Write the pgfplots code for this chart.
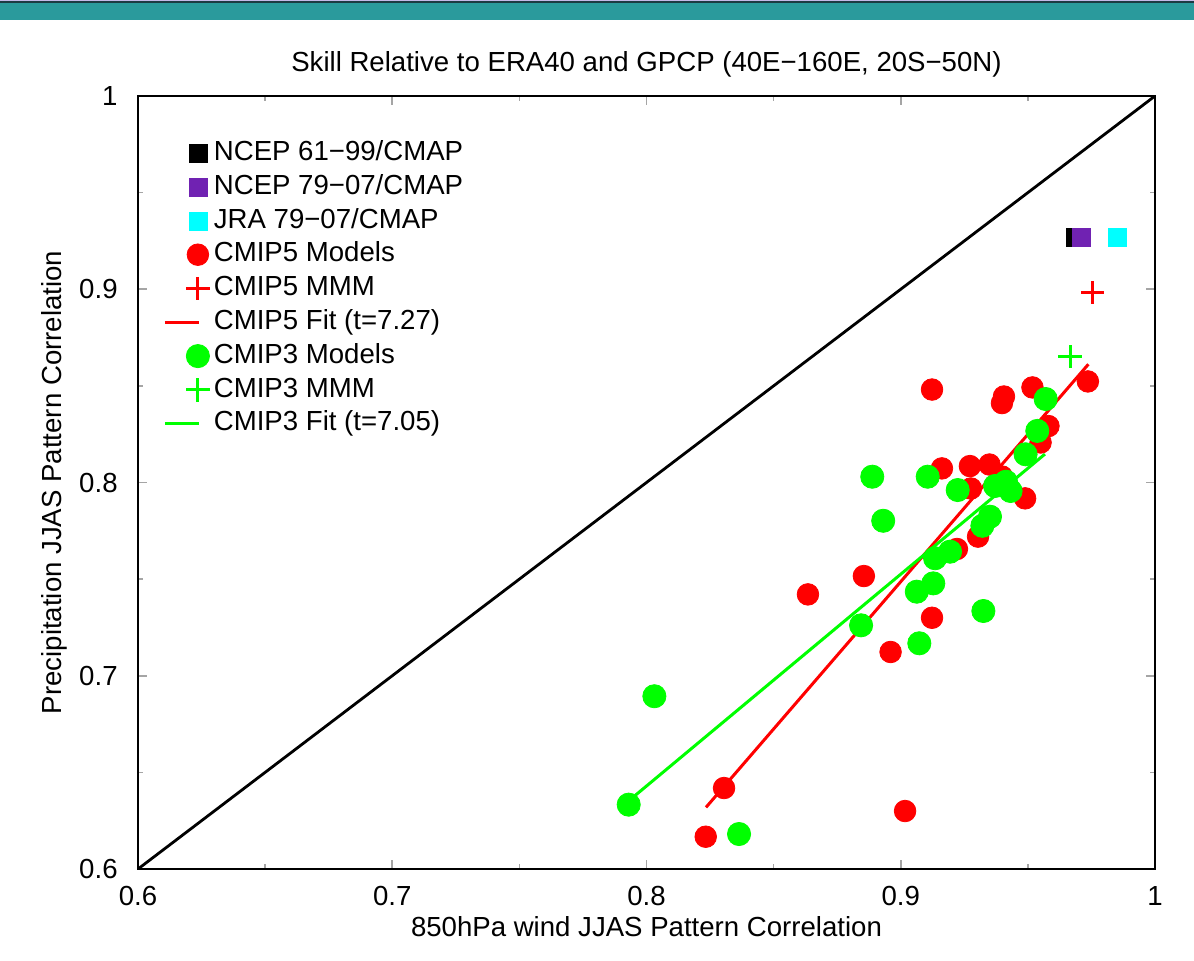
\documentclass[border=0pt]{standalone}
\usepackage{fontspec}
\setmainfont{Liberation Sans}
\usepackage{pgfplots}
\pgfplotsset{compat=1.18}

\definecolor{bandteal}{RGB}{42,154,156}
\definecolor{banddark}{RGB}{28,58,66}
\definecolor{bandlav}{RGB}{196,186,232}
\definecolor{ncepviolet}{RGB}{112,34,178}
\definecolor{jracyan}{RGB}{0,255,255}
\definecolor{ticgray}{RGB}{165,165,165}

\pgfplotsset{
  markleg/.style={legend image code/.code={%
      \path[draw=none,fill=none] (0pt,-6pt) rectangle (23pt,6pt);
      \draw[##1] plot coordinates {(16.5pt,0pt)};}},
  lineleg/.style={legend image code/.code={%
      \path[draw=none,fill=none] (0pt,-6pt) rectangle (23pt,6pt);
      \draw[##1] (0pt,0pt) -- (17pt,0pt);}},
}

\begin{document}
\fontsize{13.8pt}{16pt}\selectfont
\begin{tikzpicture}
\useasboundingbox (0pt,0pt) rectangle (597pt,480pt);
\fill[white] (0pt,0pt) rectangle (597pt,480pt);
\fill[bandteal] (0pt,470pt) rectangle (597pt,478.5pt);
\fill[banddark] (0pt,478.5pt) rectangle (597pt,479.5pt);
\fill[bandlav] (0pt,479.5pt) rectangle (597pt,480pt);
\begin{axis}[
  at={(69pt,45.5pt)}, anchor=south west,
  scale only axis, width=508.5pt, height=386.5pt,
  xmin=0.6, xmax=1, ymin=0.6, ymax=1,
  xtick={0.6,0.7,0.8,0.9,1}, ytick={0.6,0.7,0.8,0.9,1},
  minor tick num=1, tick pos=both, tick align=inside,
  major tick length=4.5pt, minor tick length=2.5pt,
  tick style={ticgray, line width=0.8pt},
  axis line style={black, line width=1pt},
  /pgf/number format/assume math mode=true,
  xticklabel style={inner sep=0pt, anchor=base, yshift=-18.3pt},
  yticklabel style={inner sep=0pt, anchor=east, xshift=-10pt},
  xlabel={850hPa wind JJAS Pattern Correlation},
  xlabel style={at={([yshift=-33.5pt]axis description cs:0.5,0)}, anchor=base, inner sep=0pt},
  ylabel={Precipitation JJAS Pattern Correlation},
  ylabel style={at={([xshift=-38pt]axis description cs:0,0.5)}, anchor=base, inner sep=0pt},
  title={Skill Relative to ERA40 and GPCP (40E−160E, 20S−50N)},
  every axis title shift=0pt,
  title style={at={([yshift=12.2pt]axis description cs:0.5,1)}, anchor=base, inner sep=0pt},
  legend style={draw=none, fill=none, at={([xshift=12.5pt,yshift=-20pt]axis description cs:0,1)},
    anchor=north west, inner sep=0pt, row sep=0pt, column sep=1.5pt, cells={anchor=west},
    nodes={inner sep=0pt, text height=12pt, text depth=4.9pt}},
]
\addplot[black, line width=1.4pt, forget plot] coordinates {(0.6,0.6) (1,1)};

\addplot[only marks, mark=square*, mark size=4.5pt, color=black, markleg]
  coordinates {(0.9685,0.9270)};
\addlegendentry{NCEP 61−99/CMAP}
\addplot[only marks, mark=square*, mark size=4.5pt, color=ncepviolet, markleg]
  coordinates {(0.9709,0.9270)};
\addlegendentry{NCEP 79−07/CMAP}
\addplot[only marks, mark=square*, mark size=4.5pt, color=jracyan, markleg]
  coordinates {(0.9851,0.9270)};
\addlegendentry{JRA 79−07/CMAP}

% CMIP5 models
\addplot[only marks, mark=*, mark size=5.4pt, color=red, markleg] coordinates {
  (0.9123,0.8481) (0.9406,0.8445) (0.9398,0.8411) (0.9518,0.8492)
  (0.9736,0.8523) (0.9581,0.8292) (0.9550,0.8207) (0.9162,0.8073)
  (0.9272,0.8085) (0.9349,0.8093) (0.9398,0.8031) (0.9276,0.7969)
  (0.9489,0.7918) (0.9304,0.7720) (0.9221,0.7656) (0.8855,0.7516)
  (0.9123,0.7300) (0.8635,0.7421) (0.8960,0.7123) (0.8305,0.6419)
  (0.8233,0.6167) (0.9017,0.6300)
};
\addlegendentry{CMIP5 Models}
\addplot[only marks, mark=+, mark size=5.8pt, color=red, line width=1.5pt, markleg]
  coordinates {(0.9755,0.8982)};
\addlegendentry{CMIP5 MMM}
\addplot[red, line width=1.5pt, lineleg] coordinates {(0.8234,0.6319) (0.9738,0.8612)};
\addlegendentry{CMIP5 Fit (t=7.27)}

% CMIP3 models
\addplot[only marks, mark=*, mark size=5.8pt, color=green, markleg] coordinates {
  (0.8888,0.8030) (0.9106,0.8030) (0.8931,0.7802) (0.9224,0.7961)
  (0.9371,0.7982) (0.9414,0.8004) (0.9432,0.7956) (0.9491,0.8146)
  (0.9537,0.8267) (0.9570,0.8432) (0.9351,0.7823) (0.9321,0.7776)
  (0.9194,0.7642) (0.9135,0.7608) (0.9128,0.7478) (0.9063,0.7435)
  (0.9325,0.7335) (0.8844,0.7261) (0.9073,0.7168) (0.8031,0.6894)
  (0.7930,0.6333) (0.8364,0.6181)
};
\addlegendentry{CMIP3 Models}
\addplot[only marks, mark=+, mark size=5.8pt, color=green, line width=1.5pt, markleg]
  coordinates {(0.9666,0.8651)};
\addlegendentry{CMIP3 MMM}
\addplot[green, line width=1.5pt, lineleg] coordinates {(0.7934,0.6357) (0.9567,0.8147)};
\addlegendentry{CMIP3 Fit (t=7.05)}
\end{axis}
\end{tikzpicture}
\end{document}
